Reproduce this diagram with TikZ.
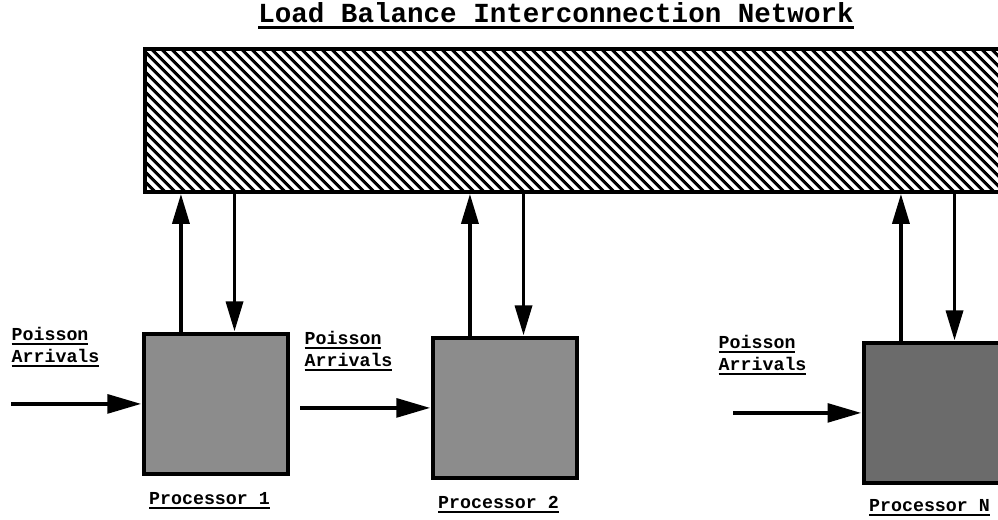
\documentclass[tikz,border=0pt]{standalone}
\usepackage{fontspec}
\setmonofont{Liberation Mono}
\usepackage{tikz}
\usetikzlibrary{arrows.meta,positioning,patterns.meta,calc}
\newsavebox\ulbox
\newcommand\ulword[1]{\sbox\ulbox{#1}\rlap{\rule[-0.24em]{\wd\ulbox}{0.11em}}\usebox\ulbox}

\begin{document}
\begin{tikzpicture}[x=0.025cm, y=-0.025cm,
  font=\ttfamily\bfseries\fontsize{13}{15.6}\selectfont,
  net/.style={draw, line width=3pt, pattern={Lines[angle=-45, distance=5.4pt, line width=2.5pt]},
              minimum width=24cm, minimum height=3.58cm, anchor=north west, inner sep=0pt},
  proc/.style={draw, line width=3.4pt, fill=black!45, minimum width=3.6cm, minimum height=3.5cm,
               anchor=north west, inner sep=0pt},
  lab/.style={inner sep=1pt, align=left},
  link/.style={line width=2.8pt, -{Triangle[length=0.75cm, width=0.42cm]}},
  feed/.style={line width=3.2pt, -{Triangle[length=0.85cm, width=0.46cm]}}]
\clip (0,0) rectangle (998,519);
\fill[white] (0,0) rectangle (998,519);
%% title and the network bar, which runs off the right edge
\node[font=\ttfamily\bfseries\fontsize{19.6}{22}\selectfont] (title) at (556,16)
  {\ulword{Load Balance Interconnection Network}};
\node[net] (net) at (143,47) {};
%% processors
\node[proc] (p1) at (141.5,331.5) {};
\node[proc] (p2) at (430.5,335.5) {};
\node[proc, fill=black!58] (pN) at (861.5,340.5) {};
\node[lab, below=3.6mm of p1, xshift=-1.6mm] (l1) {\ulword{Processor 1}};
\node[lab, below=3.6mm of p2, xshift=-1.6mm] (l2) {\ulword{Processor 2}};
\node[lab, below=3.2mm of pN, xshift=-1.6mm] (lN) {\ulword{Processor N}};
%% links to and from the network
\foreach \p in {p1,p2,pN}
  {\coordinate (\p up) at ($(\p.north west)!0.265!(\p.north east)$);
   \coordinate (\p dn) at ($(\p.north west)!0.625!(\p.north east)$);
   \draw[link] (\p up) -- (\p up |- net.south);
   \draw[link] (\p dn |- net.south) -- (\p dn);}
%% arrivals
\coordinate[left=3.25cm of p1.west] (s1);
\coordinate[left=3.25cm of p2.west] (s2);
\coordinate[left=3.2cm of pN.west] (sN);
\draw[feed] (s1) -- (p1.west);
\draw[feed] (s2) -- (p2.west);
\draw[feed] (sN) -- (pN.west);
\node[lab, anchor=north west] (a1) at (10,326) {\ulword{Poisson}\\\ulword{Arrivals}};
\node[lab, anchor=north west] (a2) at (303,330) {\ulword{Poisson}\\\ulword{Arrivals}};
\node[lab, anchor=north west] (aN) at (717,334) {\ulword{Poisson}\\\ulword{Arrivals}};
\end{tikzpicture}
\end{document}
